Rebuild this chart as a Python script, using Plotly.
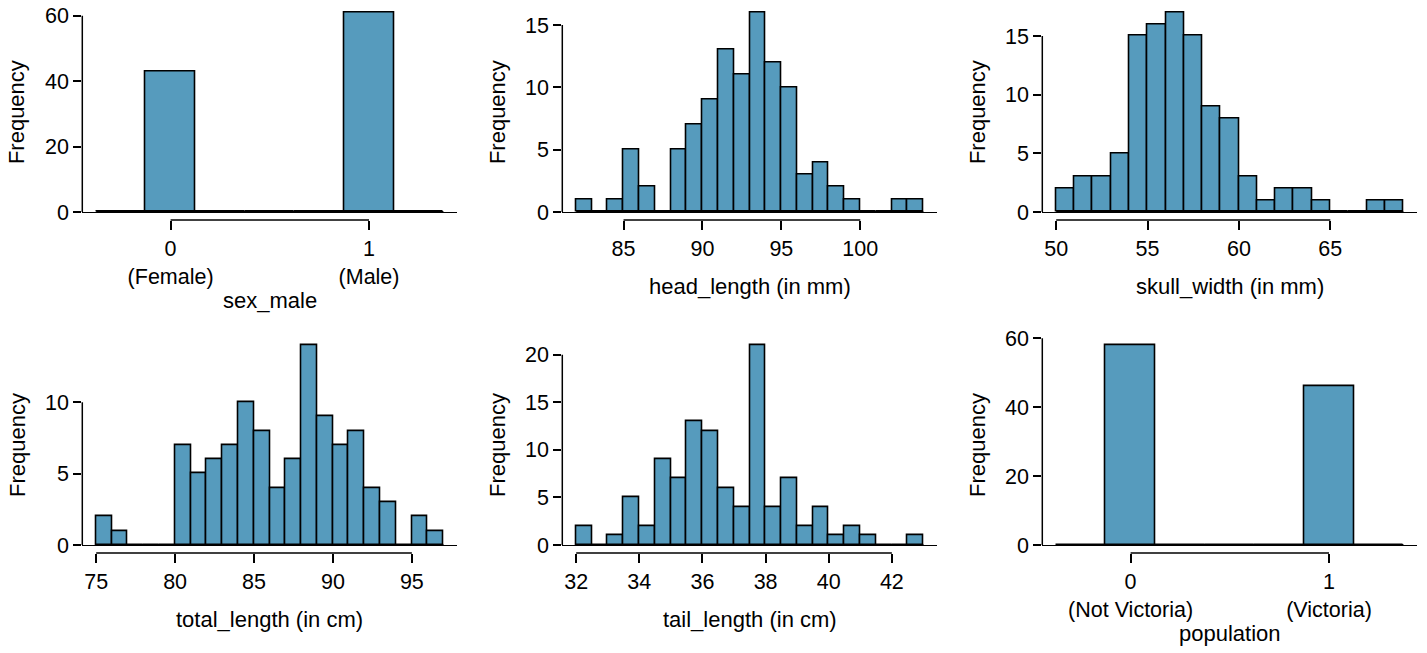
import plotly.graph_objects as go

# ---------------- data ----------------
sex_edges = [-0.375, -0.125, 0.125, 0.375, 0.625, 0.875, 1.125, 1.375]
sex_counts = [0, 43, 0, 0, 0, 61, 0]
sex_ticks = [0, 1]
sex_ticktext = ["0<br>(Female)", "1<br>(Male)"]

head_edges = list(range(82, 105))
head_counts = [1, 0, 1, 5, 2, 0, 5, 7, 9, 13, 11, 16, 12, 10, 3, 4, 2, 1, 0, 0, 1, 1]
head_ticks = [85, 90, 95, 100]

skull_edges = list(range(50, 70))
skull_counts = [2, 3, 3, 5, 15, 16, 17, 15, 9, 8, 3, 1, 2, 2, 1, 0, 0, 1, 1]
skull_ticks = [50, 55, 60, 65]

total_edges = list(range(75, 98))
total_counts = [2, 1, 0, 0, 0, 7, 5, 6, 7, 10, 8, 4, 6, 14, 9, 7, 8, 4, 3, 0, 2, 1]
total_ticks = [75, 80, 85, 90, 95]

tail_edges = [32 + 0.5 * i for i in range(23)]
tail_counts = [2, 0, 1, 5, 2, 9, 7, 13, 12, 6, 4, 21, 4, 7, 2, 4, 1, 2, 1, 0, 0, 1]
tail_ticks = [32, 34, 36, 38, 40, 42]

pop_edges = [-0.375, -0.125, 0.125, 0.375, 0.625, 0.875, 1.125, 1.375]
pop_counts = [0, 58, 0, 0, 0, 46, 0]
pop_ticks = [0, 1]
pop_ticktext = ["0<br>(Not Victoria)", "1<br>(Victoria)"]

panels = [
    dict(edges=sex_edges, counts=sex_counts, xt=sex_ticks, xtt=sex_ticktext,
         yt=[0, 20, 40, 60], title="sex_male", row=0, col=0),
    dict(edges=head_edges, counts=head_counts, xt=head_ticks, xtt=None,
         yt=[0, 5, 10, 15], title="head_length (in mm)", row=0, col=1),
    dict(edges=skull_edges, counts=skull_counts, xt=skull_ticks, xtt=None,
         yt=[0, 5, 10, 15], title="skull_width (in mm)", row=0, col=2),
    dict(edges=total_edges, counts=total_counts, xt=total_ticks, xtt=None,
         yt=[0, 5, 10], title="total_length (in cm)", row=1, col=0),
    dict(edges=tail_edges, counts=tail_counts, xt=tail_ticks, xtt=None,
         yt=[0, 5, 10, 15, 20], title="tail_length (in cm)", row=1, col=1),
    dict(edges=pop_edges, counts=pop_counts, xt=pop_ticks, xtt=pop_ticktext,
         yt=[0, 20, 40, 60], title="population", row=1, col=2),
]

# ---------------- layout geometry (px) ----------------
W, H = 1427, 653
col_px = [(82.3, 457.3), (562.3, 937.3), (1042.3, 1417.3)]
row_px = [(4.6, 220.0), (337.2, 553.0)]
FILL = "#569BBD"
FAM = "Liberation Sans, Arial, Helvetica, sans-serif"
TICKFONT = dict(family=FAM, size=21.5, color="black")
TITLEFONT = dict(family=FAM, size=22, color="black")

fig = go.Figure()
layout = dict(width=W, height=H, autosize=False, margin=dict(l=0, r=0, t=0, b=0),
              plot_bgcolor="white", paper_bgcolor="white", showlegend=False,
              font=TICKFONT, bargap=0)
shapes = []
annotations = []

for i, p in enumerate(panels):
    n = i + 1
    xs = "" if n == 1 else str(n)
    xa, ya = "x" + xs, "y" + xs
    edges, counts = p["edges"], p["counts"]
    bw = edges[1] - edges[0]
    centers = [(edges[k] + edges[k + 1]) / 2 for k in range(len(counts))]
    fig.add_trace(go.Bar(x=centers, y=counts, width=bw, xaxis=xa, yaxis=ya,
                         marker=dict(color=FILL, line=dict(color="black", width=1.6)),
                         hoverinfo="x+y"))
    # zero-height bins drawn as outline along the baseline
    fig.add_trace(go.Scatter(x=[edges[0], edges[-1]], y=[0, 0], xaxis=xa, yaxis=ya,
                             mode="lines", line=dict(color="black", width=2),
                             hoverinfo="skip"))
    x0p, x1p = col_px[p["col"]]
    y0p, y1p = row_px[p["row"]]
    xr = edges[-1] - edges[0]
    ymax = max(counts)
    layout["xaxis" + xs] = dict(
        domain=[x0p / W, x1p / W], anchor=ya,
        range=[edges[0] - 0.04 * xr, edges[-1] + 0.04 * xr],
        showgrid=False, zeroline=False, showline=False,
        ticks="outside", ticklen=9, tickwidth=1.5, tickcolor="black",
        tickvals=p["xt"], ticktext=p["xtt"] if p["xtt"] else [str(v) for v in p["xt"]],
        tickfont=TICKFONT, automargin=False, fixedrange=True)
    layout["yaxis" + xs] = dict(
        domain=[1 - y1p / H, 1 - y0p / H], anchor=xa,
        range=[-0.04 * ymax, ymax * 1.04],
        showgrid=False, zeroline=True, zerolinecolor="black", zerolinewidth=1,
        showline=False, ticks="outside", ticklen=8, tickwidth=1.5, tickcolor="black",
        tickvals=p["yt"], ticktext=[str(v) for v in p["yt"]],
        tickfont=TICKFONT, automargin=False, fixedrange=True)
    # axis spines limited to tick range
    shapes.append(dict(type="line", xref=xa + " domain", yref=ya, x0=0, x1=0,
                       y0=p["yt"][0], y1=p["yt"][-1], line=dict(color="black", width=1.5)))
    shapes.append(dict(type="line", xref=xa, yref=ya + " domain", x0=p["xt"][0], x1=p["xt"][-1],
                       y0=0, y1=0, line=dict(color="black", width=1.5)))
    # axis titles
    two_line = p["xtt"] is not None
    ty = y1p + (80 if two_line else 66.7)
    annotations.append(dict(text=p["title"], xref="paper", yref="paper",
                            x=(x0p + x1p) / 2 / W, y=1 - ty / H, showarrow=False,
                            xanchor="center", yanchor="middle", font=TITLEFONT))
    annotations.append(dict(text="Frequency", xref="paper", yref="paper",
                            x=(x0p - 65.5) / W, y=1 - (y0p + y1p) / 2 / H, showarrow=False,
                            textangle=-90, xanchor="center", yanchor="middle", font=TITLEFONT))

layout["shapes"] = shapes
layout["annotations"] = annotations
fig.update_layout(**layout)
fig.write_html("out.html")
